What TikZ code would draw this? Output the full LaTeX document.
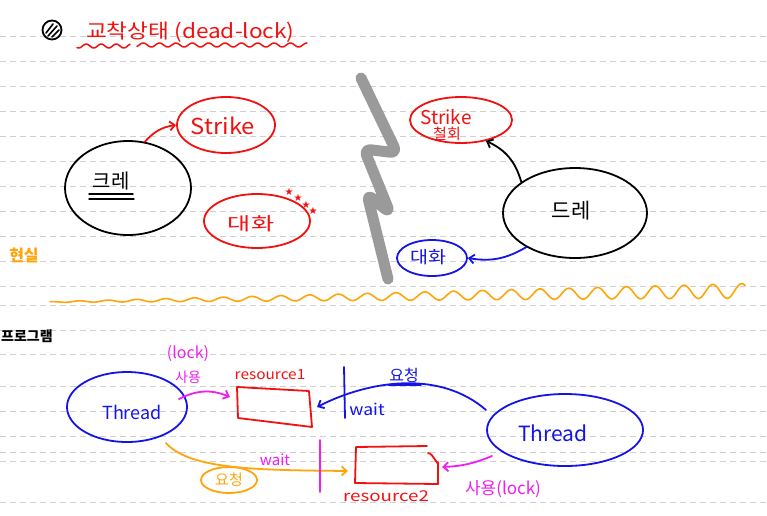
\documentclass[tikz,border=0pt]{standalone}
\usepackage{fontspec}
\setmainfont{Noto Sans CJK KR}
\newfontfamily\symfont{DejaVu Sans}
\usetikzlibrary{arrows.meta,shapes.geometric}
\definecolor{penred}{HTML}{F21111}
\definecolor{penblue}{HTML}{1414E6}
\definecolor{penmag}{HTML}{F01EF0}
\definecolor{penorange}{HTML}{FFA50A}
\definecolor{pengrey}{HTML}{9A9A9A}
\definecolor{ruleline}{HTML}{D0D0D0}
\begin{document}
\begin{tikzpicture}[x=1pt,y=-1pt,
  pen/.style={line width=1.8pt,line cap=round,line join=round},
  blob/.style={pen,ellipse,draw,inner sep=0pt},
  hw/.style={inner sep=0pt,font=\fontsize{#1pt}{#1pt}\selectfont},
  hw/.default=14,
  star/.style={text=penred,font=\symfont\fontsize{10pt}{10pt}\selectfont,inner sep=0pt},
  tip/.style={-{Straight Barb[length=5pt,width=9pt,line width=1.8pt]}},
  ruled/.style={draw=ruleline,line width=0.8pt,dash pattern=on 6pt off 4pt}]
\useasboundingbox[fill=white] (0,0) rectangle (767,515);
% ruled paper lines
\foreach \yy in {36,61,86,111,136,161,186,211,236,261,286,305,330,354,386,411,436,452,461,502}
  \draw[ruled] (0,\yy) -- (767,\yy);

% ---------- title ----------
\node[pen,circle,draw,minimum size=19pt,inner sep=0pt] (icon) at (52,30) {};
\draw[line width=1.6pt,line cap=round] (46,33) -- (53,24) (48,36) -- (57,26) (52,37) -- (59,30);
\node[hw=20,text=penred,anchor=west] (title) at (86,32) {\scalebox{1.13}[1]{교착상태 (dead-lock)}};
\draw[pen,penred,line width=1.5pt] plot[domain=77:130,samples=60] (\x,{46+2*sin(24*\x)});
\draw[pen,penred,line width=1.5pt] plot[domain=137:307,samples=160] (\x,{45+2*sin(22*\x)});

% ---------- reality example ----------
\node[hw=16,text=penorange,font=\bfseries\fontsize{16pt}{16pt}\selectfont] (real) at (24,255) {현실};

\node[blob,minimum width=126pt,minimum height=94pt] (lblob) at (128,188) {};
\node[hw=20] (ltext) at (111,181) {크레};
\draw[pen,line width=1.4pt] (89,194) -- (133,194) (89,199) -- (134,199);

\node[blob,draw=penred,minimum width=98pt,minimum height=56pt] (strike) at (226,125) {};
\node[hw=22,text=penred] (striketxt) at (223,126) {\scalebox{1.08}[1]{Strike}};
\draw[pen,penred,tip] (lblob.70) to[bend left=20] (strike.west);

\node[blob,draw=penred,minimum width=106pt,minimum height=54pt] (talk1) at (257,221) {};
\node[hw=18,text=penred] (talk1txt) at (251,224) {\scalebox{1.4}[1]{대화}};
\node[star] (star1) at (289,192) {★};
\node[star] (star2) at (298,198) {★};
\node[star] (star3) at (306,205) {★};
\node[star] (star4) at (313,211) {★};

% grey zigzag divider
\draw[pengrey,line width=11pt,line cap=round,line join=round,rounded corners=7pt]
  (361,78) -- (397,153) -- (364,149) -- (390,213) -- (367,194) -- (388,279);

\node[blob,minimum width=144pt,minimum height=90pt] (rblob) at (575,213) {};
\node[hw=21] (rtext) at (571,211) {드레};

\node[blob,draw=penred,minimum width=102pt,minimum height=46pt] (strike2) at (461,120) {};
\node[hw=19,text=penred] (strike2txt) at (446,117) {Strike};
\node[hw=15,text=penred] (withdraw) at (447,134) {철회};
\draw[pen,tip] (rblob.150) to[bend right=25] (strike2.-40);

\node[blob,draw=penblue,minimum width=70pt,minimum height=36pt] (talk2) at (432,258) {};
\node[hw=17,text=penblue] (talk2txt) at (428,257) {\scalebox{1.15}[1]{대화}};
\draw[pen,penblue,tip] (rblob.-145) to[bend left=20] (talk2.east);

% orange wavy separator
\draw[pen,penorange,line width=1.6pt] plot[domain=50:745,samples=400]
  (\x,{302-0.016*(\x-50)+(0.4+0.01*(\x-50))*sin(12.5*\x)});

% ---------- program example ----------
\node[hw=14,font=\bfseries\fontsize{14pt}{14pt}\selectfont] (prog) at (27,336) {프로그램};

\node[blob,draw=penblue,minimum width=120pt,minimum height=70pt] (th1) at (127,407) {};
\node[hw=18,text=penblue] (th1txt) at (132,412) {Thread};

\node[blob,draw=penblue,minimum width=156pt,minimum height=72pt] (th2) at (565,430) {};
\node[hw=21,text=penblue] (th2txt) at (553,433) {Thread};

% resource 1
\coordinate (r1a) at (237,387);
\coordinate (r1b) at (309,391);
\coordinate (r1c) at (312,427);
\coordinate (r1d) at (238,418);
\draw[pen,penred] (r1a) -- (r1b) -- (r1c) -- (r1d) -- cycle;
\node[hw=14,text=penred] (r1txt) at (270,375) {\scalebox{1.1}[1]{resource1}};

% resource 2
\coordinate (r2a) at (356,447);
\coordinate (r2b) at (427,446);
\coordinate (r2c) at (438,484);
\coordinate (r2d) at (355,483);
\draw[pen,penred] (r2a) -- (r2b) (r2d) -- (r2a);
\draw[pen,penred] (r2d) -- (r2c) -- (438,462) to[out=-90,in=0] (428,453);
\node[hw=15,text=penred] (r2txt) at (386,496) {\scalebox{1.25}[1]{resource2}};

% thread 1 uses resource 1
\node[hw=16,text=penmag] (lock1) at (188,354) {(lock)};
\node[hw=14,text=penmag] (use1) at (188,377) {사용};
\coordinate (t1out) at (179,399);
\coordinate (r1in) at (230,397);
\draw[pen,penmag,tip] (t1out) to[bend left=25] (r1in);

% thread 2 requests resource 1 (wait)
\coordinate (t2top) at (486,410);
\coordinate (r1right) at (317,407);
\draw[pen,penblue,tip] (t2top) .. controls (440,370) and (370,380) .. (r1right);
\draw[pen,penblue] (344,367) -- (345,418);
\node[hw=16,text=penblue] (req1) at (404,375) {요청};
\draw[pen,penblue,line width=1.4pt] (388,385) -- (421,385);
\node[hw=16,text=penblue] (wait1) at (367,409) {\scalebox{1.1}[1]{wait}};

% thread 1 requests resource 2 (wait)
\coordinate (t1bot) at (166,443);
\coordinate (r2left) at (348,471);
\draw[pen,penorange,tip] (t1bot) .. controls (190,470) and (260,470) .. (r2left);
\node[blob,draw=penorange,minimum width=56pt,minimum height=26pt] (req2) at (229,480) {};
\node[hw=15,text=penorange] (req2txt) at (229,480) {요청};
\node[hw=15,text=penmag] (wait2) at (275,460) {wait};
\draw[pen,penmag] (320,440) -- (320,492);

% thread 2 uses resource 2
\coordinate (t2out) at (492,456);
\coordinate (r2in) at (442,467);
\draw[pen,penmag,tip] (t2out) to[bend left=10] (r2in);
\node[hw=17,text=penmag] (use2) at (503,489) {사용(lock)};
\end{tikzpicture}
\end{document}
